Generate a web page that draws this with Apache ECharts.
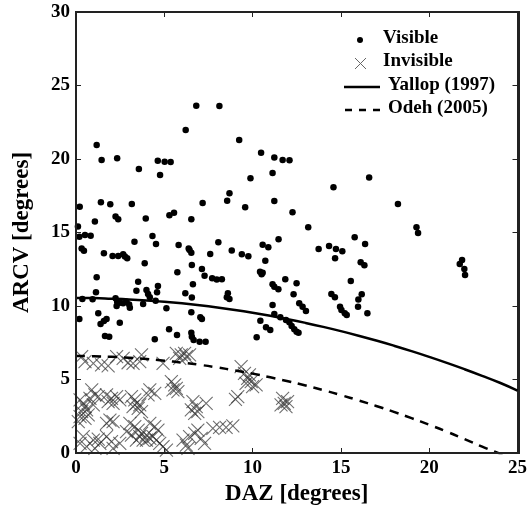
<!DOCTYPE html>
<html><head><meta charset="utf-8">
<script src="https://cdn.jsdelivr.net/npm/echarts@6/dist/echarts.min.js"></script>
<style>html,body{margin:0;padding:0;background:#fff}#c{width:530px;height:511px}</style>
</head><body><div id="c"></div>
<script>
// Visible sightings: DAZ and ARCV (degrees)
const visibleDaz = [6.81,8.12,6.21,1.17,1.45,2.33,3.56,4.63,5.02,5.36,4.76,0.21,1.41,1.94,3.16,7.17,5.55,5.29,2.24,2.39,3.95,6.53,1.07,0.11,0.19,0.51,0.83,4.33,3.31,4.53,5.81,6.38,8.06,0.32,9.24,10.48,11.23,11.7,12.09,11.13,9.88,14.58,16.6,8.69,8.56,11.23,9.58,12.26,13.15,8.82,10.57,10.89,11.47,13.74,14.33,14.72,15.08,15.78,16.37,18.23,19.28,19.37,16.12,16.33,15.56,16.18,15.99,21.86,21.73,21.99,22.03,6.43,6.53,0.45,1.58,2.07,2.39,2.67,2.77,2.9,3.89,7.6,6.56,7.13,7.28,7.71,7.97,5.74,1.17,3.52,4.64,4.59,6.62,6.19,1.13,3.42,3.99,4.08,4.18,6.56,0.36,0.94,2.24,2.33,2.48,2.67,2.86,3.01,3.05,2.3,3.8,4.51,5.12,6.53,7.04,7.13,0.19,1.26,1.73,1.58,1.39,2.48,5.27,5.72,6.53,6.56,6.66,7.0,7.34,1.64,1.88,4.46,9.39,9.76,10.72,14.67,10.42,10.57,10.51,8.26,11.85,12.49,11.13,11.23,11.46,12.32,8.6,8.54,8.69,14.46,14.66,15.97,12.64,12.83,13.02,11.13,11.23,11.57,11.89,12.08,12.21,12.36,12.49,12.6,14.95,15.03,15.22,15.33,16.5,10.44,10.76,11.0,10.23];
const visibleArcv = [23.63,23.6,21.97,20.95,19.93,20.05,19.32,19.88,19.82,19.8,18.91,16.76,17.05,16.92,16.94,17.0,16.35,16.17,16.08,15.9,15.96,15.9,15.74,15.4,14.71,14.83,14.78,14.76,14.37,14.22,14.15,13.92,14.33,13.92,21.29,20.43,20.11,19.93,19.91,19.05,18.69,18.07,18.75,17.67,17.16,17.14,16.71,16.37,15.35,13.77,14.17,13.99,14.54,13.87,14.09,13.87,13.73,14.67,14.21,16.94,15.35,14.97,12.97,12.78,11.7,10.8,10.44,13.13,12.86,12.52,12.11,13.81,13.63,13.76,13.58,13.4,13.4,13.52,13.36,13.24,12.9,13.54,12.79,12.52,12.06,11.88,11.8,12.29,11.95,11.65,11.36,10.93,11.48,10.86,10.93,11.04,11.09,10.82,10.59,10.57,10.48,10.46,10.52,10.29,10.22,10.18,10.29,10.11,9.88,10.0,10.14,10.36,9.84,9.57,9.23,9.12,9.12,9.5,9.12,8.98,8.78,8.86,8.41,8.03,8.18,7.91,7.69,7.57,7.57,7.96,7.91,7.73,13.52,13.38,13.08,13.24,12.33,12.27,12.16,11.82,11.82,11.54,11.48,11.31,11.14,10.8,10.86,10.59,10.48,10.82,10.59,9.95,10.18,9.95,9.66,10.07,9.46,9.23,9.05,8.89,8.64,8.41,8.25,8.18,9.95,9.73,9.5,9.39,9.5,9.0,8.55,8.37,7.87];

// Invisible (not seen) attempts
const invisibleDaz = [0.32,0.51,0.98,1.45,1.82,2.3,2.67,2.95,3.23,3.71,3.61,4.93,5.68,5.96,6.25,5.87,6.15,6.43,5.4,5.59,5.68,5.77,5.49,4.18,4.46,4.08,0.89,1.07,1.26,1.73,2.01,2.3,2.48,1.82,2.1,3.14,3.33,3.42,3.61,3.52,3.71,3.23,0.23,0.41,0.51,0.6,0.32,0.23,0.51,0.69,0.13,0.79,0.98,6.62,6.81,6.53,6.72,6.9,7.37,1.92,2.1,1.73,3.05,3.33,3.52,3.71,3.99,4.18,4.36,4.55,4.74,3.8,3.42,3.14,2.86,4.18,4.46,4.64,0.41,0.23,0.6,2.01,1.73,2.1,6.06,6.25,6.43,6.72,6.9,7.09,7.28,6.34,1.35,1.07,4.93,5.12,9.35,9.54,9.72,9.92,9.63,10.0,10.2,9.82,9.03,9.16,11.7,11.79,11.89,11.61,11.98,7.75,8.13,8.5,8.88,0.98,1.26,2.48,3.61,3.99];
const invisibleArcv = [6.55,6.21,6.1,5.99,5.92,6.55,6.44,6.14,6.1,6.67,6.21,6.1,6.78,6.67,6.55,6.44,6.78,6.67,4.85,4.63,4.4,4.17,4.29,4.29,4.06,3.95,4.29,3.95,3.83,3.95,3.72,3.83,3.61,3.49,3.38,3.83,3.61,3.38,3.27,3.04,2.81,3.15,3.61,3.38,3.15,2.93,2.81,2.47,2.36,2.59,2.13,3.72,3.27,3.49,3.15,2.93,2.7,2.81,3.38,2.24,2.13,2.02,2.02,1.79,1.56,1.34,1.22,1.0,1.11,0.88,0.66,0.88,0.88,1.22,1.45,2.02,1.79,1.56,1.11,0.66,0.43,0.77,1.11,0.32,0.88,0.54,1.11,1.34,1.56,1.0,0.66,0.32,0.66,0.32,0.43,0.2,5.87,5.42,5.08,4.85,4.74,4.51,4.63,5.31,3.65,3.83,3.72,3.38,3.15,3.27,3.49,1.68,1.75,1.75,1.84,0.88,0.95,0.66,1.11,0.88];

// Criterion curves
const curveDaz   = [0,1,2,3,4,5,6,7,8,9,10,11,12,13,14,15,16,17,18,19,20,21,22,23,24,25];
const yallopArcv = [10.55,10.54,10.5,10.45,10.38,10.29,10.18,10.05,9.9,9.73,9.54,9.33,9.1,8.85,8.58,8.29,7.98,7.65,7.3,6.93,6.54,6.13,5.7,5.25,4.78,4.25];
const odehArcv   = [6.6,6.58,6.54,6.48,6.39,6.28,6.15,6.0,5.82,5.62,5.4,5.15,4.88,4.59,4.28,3.94,3.58,3.2,2.8,2.37,1.92,1.45,0.95,0.43,-0.05,-0.6];

const xTicks = [0,5,10,15,20,25];
const yTicks = [0,5,10,15,20,25,30];

const FONT = '"Liberation Serif","DejaVu Serif",serif';
const zip = (a,b)=>a.map((v,i)=>[v,b[i]]);
const crossPath = 'path://M0,0L10,10M10,0L0,10';
const mkLine = ()=>({show:true, onZero:false, lineStyle:{color:'#222', width:2}});
const mkTick = ()=>({show:true, inside:true, length:5, lineStyle:{color:'#222', width:1}});

const chart = echarts.init(document.getElementById('c'), null, {renderer:'canvas'});
chart.setOption({
  animation:false,
  backgroundColor:'#fff',
  grid:[{left:76, top:12, right:11, bottom:58, containLabel:false}],
  xAxis:[{
    show:true, gridIndex:0, type:'value', position:'bottom', min:xTicks[0], max:xTicks[xTicks.length-1], interval:5,
    axisLine:mkLine(), axisTick:mkTick(), splitLine:{show:false},
    axisLabel:{color:'#000', fontFamily:FONT, fontWeight:'bold', fontSize:19, margin:6},
    name:'DAZ [degrees]', nameLocation:'middle', nameGap:30,
    nameTextStyle:{color:'#000', fontFamily:FONT, fontWeight:'bold', fontSize:23}
  },{
    show:true, gridIndex:0, type:'value', position:'top', min:xTicks[0], max:xTicks[xTicks.length-1], interval:5,
    axisLine:mkLine(), axisTick:mkTick(), axisLabel:{show:false}, splitLine:{show:false}
  }],
  yAxis:[{
    show:true, gridIndex:0, type:'value', position:'left', min:yTicks[0], max:yTicks[yTicks.length-1], interval:5,
    axisLine:mkLine(), axisTick:mkTick(), splitLine:{show:false},
    axisLabel:{color:'#000', fontFamily:FONT, fontWeight:'bold', fontSize:19, margin:6},
    name:'ARCV [degrees]', nameLocation:'middle', nameGap:42,
    nameTextStyle:{color:'#000', fontFamily:FONT, fontWeight:'bold', fontSize:23}
  },{
    show:true, gridIndex:0, type:'value', position:'right', min:yTicks[0], max:yTicks[yTicks.length-1], interval:5,
    axisLine:mkLine(), axisTick:mkTick(), axisLabel:{show:false}, splitLine:{show:false}
  }],
  series:[
    {name:'Invisible', type:'scatter', data:zip(invisibleDaz,invisibleArcv), symbol:crossPath, symbolSize:13,
     itemStyle:{color:'rgba(0,0,0,0)', borderColor:'rgba(50,50,50,0.7)', borderWidth:1.1, opacity:1}, z:2},
    {name:'Visible', type:'scatter', data:zip(visibleDaz,visibleArcv), symbol:'circle', symbolSize:6.5,
     itemStyle:{color:'#000', opacity:1}, z:3},
    {name:'Yallop (1997)', type:'line', xAxisIndex:1, yAxisIndex:1, data:zip(curveDaz,yallopArcv), smooth:true, showSymbol:false, symbol:'none',
     lineStyle:{color:'#000', width:2.5}, z:4},
    {name:'Odeh (2005)', type:'line', xAxisIndex:1, yAxisIndex:1, data:zip(curveDaz,odehArcv), smooth:true, showSymbol:false, symbol:'none',
     lineStyle:{color:'#000', width:2.5, type:[9,7]}, z:4}
  ],
  graphic:[
    {type:'rect', shape:{x:76, y:12, width:443, height:441}, style:{fill:'rgba(0,0,0,0)', stroke:'#222', lineWidth:2}, z:100, silent:true},
    {type:'circle', shape:{cx:360, cy:40, r:3}, style:{fill:'#000'}, z:10},
    {type:'polyline', shape:{points:[[355,58],[366,69]]}, style:{stroke:'#666', lineWidth:1}, z:10},
    {type:'polyline', shape:{points:[[366,58],[355,69]]}, style:{stroke:'#666', lineWidth:1}, z:10},
    {type:'line', shape:{x1:344, y1:87, x2:380, y2:87}, style:{stroke:'#000', lineWidth:2.5}, z:10},
    {type:'line', shape:{x1:345, y1:110, x2:380, y2:110}, style:{stroke:'#000', lineWidth:2.5, lineDash:[7,7]}, z:10},
    {type:'text', left:383, top:29, style:{text:'Visible', fill:'#000', font:'bold 19px '+FONT}, z:10},
    {type:'text', left:383, top:52, style:{text:'Invisible', fill:'#000', font:'bold 19px '+FONT}, z:10},
    {type:'text', left:388, top:76, style:{text:'Yallop (1997)', fill:'#000', font:'bold 19px '+FONT}, z:10},
    {type:'text', left:388, top:99, style:{text:'Odeh (2005)', fill:'#000', font:'bold 19px '+FONT}, z:10}
  ]
});
</script>
</body></html>
